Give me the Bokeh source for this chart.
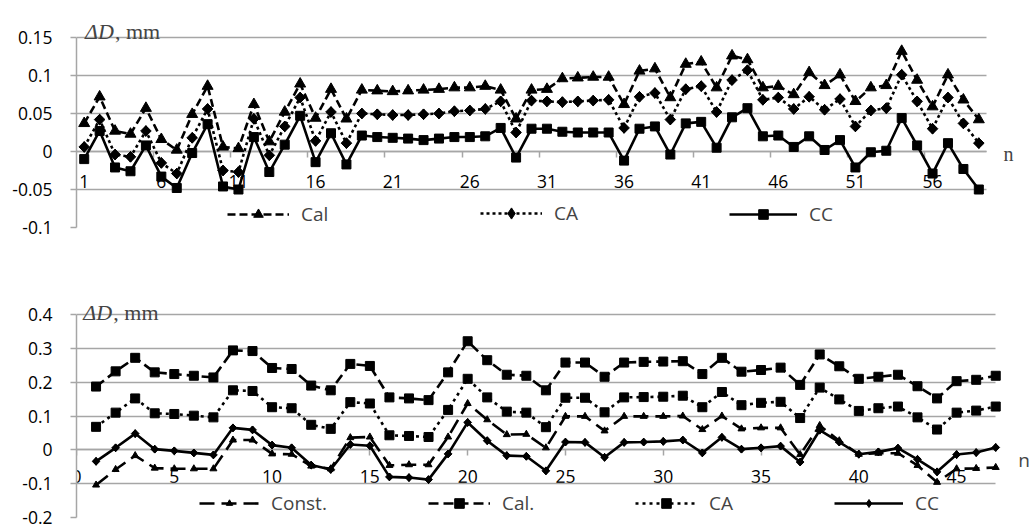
from bokeh.plotting import figure
from bokeh.models import FixedTicker, Legend, LegendItem, Label
from bokeh.layouts import column
from bokeh.embed import file_html
from bokeh.resources import INLINE

# ---------------- data: top chart ----------------
top_n = list(range(1, 60))
top_cal = [0.037, 0.072, 0.027, 0.023, 0.057, 0.016, 0.002, 0.049, 0.086, 0.006,
           0.004, 0.062, 0.013, 0.052, 0.089, 0.044, 0.082, 0.043, 0.081, 0.080,
           0.079, 0.080, 0.081, 0.082, 0.084, 0.084, 0.086, 0.081, 0.043, 0.081,
           0.082, 0.096, 0.097, 0.098, 0.098, 0.062, 0.106, 0.109, 0.071, 0.115,
           0.118, 0.084, 0.126, 0.121, 0.084, 0.086, 0.075, 0.104, 0.087, 0.101,
           0.066, 0.084, 0.087, 0.132, 0.094, 0.059, 0.101, 0.068, 0.042]
top_ca = [0.006, 0.042, -0.004, -0.007, 0.027, -0.015, -0.029, 0.018, 0.056, -0.025,
          -0.027, 0.043, -0.005, 0.033, 0.071, 0.014, 0.052, 0.011, 0.050, 0.049,
          0.048, 0.048, 0.049, 0.050, 0.053, 0.054, 0.056, 0.066, 0.025, 0.067,
          0.066, 0.065, 0.066, 0.067, 0.068, 0.031, 0.072, 0.077, 0.042, 0.082,
          0.086, 0.052, 0.094, 0.107, 0.068, 0.071, 0.056, 0.072, 0.055, 0.069,
          0.033, 0.054, 0.057, 0.101, 0.066, 0.030, 0.071, 0.037, 0.011]
top_cc = [-0.010, 0.027, -0.021, -0.026, 0.008, -0.033, -0.048, -0.002, 0.036, -0.046,
          -0.050, 0.019, -0.027, 0.009, 0.047, -0.014, 0.024, -0.017, 0.021, 0.019,
          0.018, 0.017, 0.015, 0.017, 0.019, 0.019, 0.020, 0.031, -0.008, 0.030,
          0.030, 0.026, 0.025, 0.025, 0.025, -0.012, 0.030, 0.033, -0.004, 0.037,
          0.039, 0.005, 0.045, 0.057, 0.020, 0.021, 0.006, 0.020, 0.002, 0.015,
          -0.021, -0.001, 0.001, 0.044, 0.008, -0.029, 0.011, -0.023, -0.050]
top_xticks = [1, 6, 11, 16, 21, 26, 31, 36, 41, 46, 51, 56]
top_xminor = [5.5, 10.5, 15.5, 20.5, 25.5, 30.5, 35.5, 40.5, 45.5, 50.5, 55.5]
top_yticks = [-0.1, -0.05, 0, 0.05, 0.1, 0.15]
top_ylabels = ["-0.1", "-0.05", "0", "0.05", "0.1", "0.15"]

# ---------------- data: bottom chart ----------------
bot_n = list(range(1, 48))
bot_const = [-0.104, -0.058, -0.017, -0.054, -0.056, -0.056, -0.056, 0.029, 0.029, -0.012,
             -0.013, -0.048, -0.056, 0.036, 0.038, -0.046, -0.044, -0.044, 0.038, 0.137,
             0.089, 0.045, 0.046, 0.006, 0.099, 0.099, 0.056, 0.099, 0.099, 0.099,
             0.100, 0.060, 0.100, 0.062, 0.065, 0.065, -0.014, 0.072, 0.027, -0.013,
             -0.010, -0.010, -0.046, -0.096, -0.056, -0.055, -0.052]
bot_cal = [0.187, 0.232, 0.272, 0.229, 0.224, 0.219, 0.214, 0.294, 0.292, 0.242,
           0.239, 0.190, 0.176, 0.254, 0.248, 0.155, 0.152, 0.147, 0.229, 0.321,
           0.265, 0.222, 0.219, 0.176, 0.258, 0.258, 0.216, 0.258, 0.260, 0.261,
           0.262, 0.224, 0.272, 0.231, 0.236, 0.243, 0.192, 0.282, 0.247, 0.210,
           0.216, 0.222, 0.188, 0.152, 0.203, 0.207, 0.219]
bot_ca = [0.068, 0.110, 0.152, 0.108, 0.106, 0.101, 0.096, 0.176, 0.174, 0.126,
          0.123, 0.074, 0.062, 0.141, 0.137, 0.043, 0.041, 0.038, 0.118, 0.210,
          0.155, 0.113, 0.110, 0.067, 0.154, 0.154, 0.111, 0.155, 0.156, 0.157,
          0.160, 0.126, 0.171, 0.132, 0.139, 0.142, 0.094, 0.184, 0.149, 0.115,
          0.123, 0.128, 0.096, 0.060, 0.110, 0.116, 0.128]
bot_cc = [-0.034, 0.006, 0.048, 0.002, -0.003, -0.009, -0.015, 0.065, 0.059, 0.014,
          0.006, -0.045, -0.058, 0.016, 0.012, -0.080, -0.082, -0.088, -0.012, 0.081,
          0.027, -0.017, -0.019, -0.062, 0.023, 0.022, -0.022, 0.022, 0.023, 0.025,
          0.029, -0.009, 0.037, 0.002, 0.006, 0.011, -0.036, 0.058, 0.023, -0.013,
          -0.006, 0.005, -0.028, -0.065, -0.014, -0.008, 0.007]
bot_xticks = [0, 5, 10, 15, 20, 25, 30, 35, 40, 45]
bot_yticks = [-0.2, -0.1, 0, 0.1, 0.2, 0.3, 0.4]
bot_ylabels = ["-0.2", "-0.1", "0", "0.1", "0.2", "0.3", "0.4"]

SANS = "Open Sans"
SERIF = "Liberation Serif"
GRID = "#a6a6a6"


def style(p, yticks, ylabels, xticks, xminor, xbounds):
    p.outline_line_color = None
    p.xgrid.visible = False
    g = p.ygrid[0]
    g.grid_line_color = GRID
    g.grid_line_width = 1.5
    g.ticker = FixedTicker(ticks=yticks)
    g.cross_bounds = xbounds
    ya = p.yaxis[0]
    ya.ticker = FixedTicker(ticks=yticks)
    ya.bounds = (yticks[0], yticks[-1])
    ya.major_label_overrides = dict(zip(yticks, ylabels))
    ya.axis_line_color = GRID
    ya.axis_line_width = 1.5
    ya.major_tick_line_color = GRID
    ya.major_tick_line_width = 1.5
    ya.major_tick_out = 6
    ya.major_tick_in = 0
    ya.minor_tick_out = 0
    ya.minor_tick_in = 0
    ya.major_label_text_font = SANS
    ya.major_label_text_font_size = "17.5px"
    ya.major_label_text_color = "black"
    ya.major_label_standoff = 18
    xa = p.xaxis[0]
    xa.fixed_location = 0
    xa.bounds = xbounds
    xa.ticker = FixedTicker(ticks=xticks, minor_ticks=xminor)
    xa.axis_line_color = GRID
    xa.axis_line_width = 1.5
    xa.major_tick_line_color = GRID
    xa.minor_tick_line_color = GRID
    xa.major_tick_line_width = 1.5
    xa.minor_tick_line_width = 1.5
    xa.major_tick_in = 0
    xa.minor_tick_in = 0
    xa.major_label_text_font = SANS
    xa.major_label_text_font_size = "17.5px"
    xa.major_label_text_color = "black"
    xa.level = "underlay"


def add_legend(p, label, renderers, x, y, gw, gh=24):
    lg = Legend(items=[LegendItem(label=label, renderers=renderers)],
                location=(x, y), orientation="horizontal",
                border_line_color=None, background_fill_alpha=0,
                padding=0, margin=0, spacing=0,
                glyph_width=gw, glyph_height=gh, label_height=24,
                label_standoff=12,
                label_text_font=SANS, label_text_font_size="19px")
    p.add_layout(lg)


def add_title(p, x, y, size, gap):
    p.add_layout(Label(x=x, y=y, text="ΔD", text_font=SERIF, text_font_style="italic",
                       text_font_size=size, text_baseline="alphabetic"))
    p.add_layout(Label(x=x, y=y, x_offset=gap, text=", mm", text_font=SERIF,
                       text_font_size=size, text_baseline="alphabetic"))


lw = 2.6

# ---------------- top figure ----------------
p1 = figure(width=1032, height=240, x_range=(0.5, 62.48), y_range=(-0.1, 0.1987),
            output_backend="svg", toolbar_location=None,
            min_border_left=76, min_border_right=0, min_border_top=0, min_border_bottom=13)
style(p1, top_yticks, top_ylabels, top_xticks, top_xminor, (0.5, 59.5))
p1.xaxis[0].major_tick_out = 0
p1.xaxis[0].minor_tick_out = 6
p1.xaxis[0].major_label_standoff = 17

r1l = p1.line(top_n, top_cal, line_color="black", line_width=lw, line_dash="8 4")
r1s = p1.scatter(top_n, top_cal, marker="triangle", size=11, color="black")
r2l = p1.line(top_n, top_ca, line_color="black", line_width=lw, line_dash="3 3")
r2s = p1.scatter(top_n, top_ca, marker="square", angle=0.785398, size=7.5, color="black")
r2k = p1.scatter(top_n, top_ca, marker="diamond", size=10.6, color="black")
r3l = p1.line(top_n, top_cc, line_color="black", line_width=lw)
r3s = p1.scatter(top_n, top_cc, marker="square", size=9, color="black")

add_legend(p1, "Cal", [r1l, r1s], 151, 0, 62)
add_legend(p1, "CA", [r2l, r2k], 404, 0, 62, 28)
add_legend(p1, "CC", [r3l, r3s], 653, 0, 68)
add_title(p1, 1.05, 0.158, "22px", 30)
p1.add_layout(Label(x=60.6, y=-0.003, text="n", text_font=SERIF, text_font_size="20px",
                    text_baseline="middle"))

# ---------------- bottom figure ----------------
p2 = figure(width=1032, height=289, x_range=(0, 48.88), y_range=(-0.2, 0.6188),
            output_backend="svg", toolbar_location=None,
            min_border_left=74, min_border_right=0, min_border_top=0, min_border_bottom=12)
style(p2, bot_yticks, bot_ylabels, bot_xticks, [], (0, 47))
p2.xaxis[0].major_tick_out = 6
p2.xaxis[0].minor_tick_out = 0
p2.xaxis[0].major_label_standoff = 14

q1l = p2.line(bot_n, bot_const, line_color="black", line_width=lw, line_dash="15 7")
q1s = p2.scatter(bot_n, bot_const, marker="triangle", size=7, color="black")
q2l = p2.line(bot_n, bot_cal, line_color="black", line_width=lw, line_dash="10 5")
q2s = p2.scatter(bot_n, bot_cal, marker="square", size=9, color="black")
q3l = p2.line(bot_n, bot_ca, line_color="black", line_width=lw, line_dash="3 4")
q3s = p2.scatter(bot_n, bot_ca, marker="square", size=9, color="black")
q4l = p2.line(bot_n, bot_cc, line_color="black", line_width=lw)
q4s = p2.scatter(bot_n, bot_cc, marker="square", angle=0.785398, size=5.5, color="black")
q4k = p2.scatter(bot_n, bot_cc, marker="diamond", size=7.8, color="black")

add_legend(p2, "Const.", [q1l, q1s], 123, 1, 60, 16)
add_legend(p2, "Cal.", [q2l, q2s], 352, 1, 62)
add_legend(p2, "CA", [q3l, q3s], 559, 1, 62)
add_legend(p2, "CC", [q4l, q4k], 758, 1, 69, 20)
add_title(p2, 0.35, 0.406, "22px", 30)
p2.add_layout(Label(x=48.15, y=-0.029, text="n", text_font=SANS, text_font_size="19px",
                    text_baseline="middle"))

layout = column(p1, p2, spacing=0)
open("out.html", "w").write(file_html(layout, INLINE))
